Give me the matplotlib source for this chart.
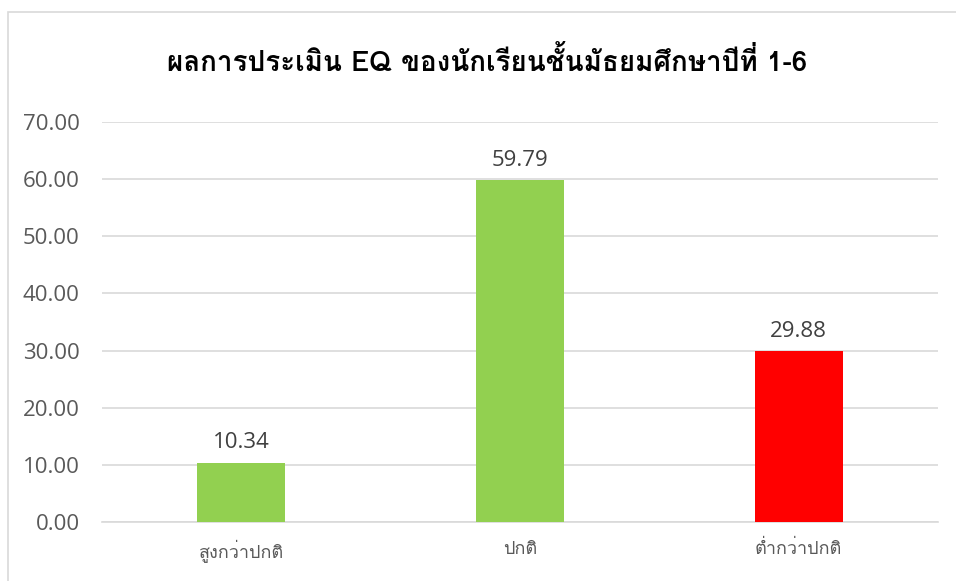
import matplotlib
matplotlib.use("Agg")
import matplotlib.pyplot as plt
from matplotlib import font_manager
from matplotlib.ft2font import FT2Font
from matplotlib.patches import Rectangle

categories = ["สูงกว่าปกติ", "ปกติ", "ต่ำกว่าปกติ"]
values = [10.34, 59.79, 29.88]
colors = ["#92D050", "#92D050", "#FF0000"]
title = "ผลการประเมิน EQ ของนักเรียนชั้นมัธยมศึกษาปีที่ 1-6"
yticks = [0, 10, 20, 30, 40, 50, 60, 70]

# find a font that covers Thai
thai_family = None
for f in font_manager.fontManager.ttflist:
    try:
        cm = FT2Font(f.fname).get_charmap()
        if ord("ก") in cm and ord("A") in cm:
            thai_family = f.name
            break
    except Exception:
        continue
families = ([thai_family] if thai_family else []) + ["DejaVu Sans"]
num_family = ["Open Sans", "DejaVu Sans"]

fig = plt.figure(figsize=(9.56, 5.81), dpi=100)
fig.patches.append(Rectangle((8 / 956, -0.01), 1.0, 1.01 - 12 / 581, transform=fig.transFigure,
                             fill=False, edgecolor="#D9D9D9", linewidth=1.2))
ax = fig.add_axes([102 / 956, 1 - 522 / 581, 836 / 956, 400 / 581])

x = list(range(len(categories)))
bars = ax.bar(x, values, width=0.316, color=colors, zorder=3)
ax.set_xlim(-0.5, 2.5)
ax.set_ylim(0, 70)
ax.set_yticks(yticks)
ax.set_yticklabels([f"{v:.2f}" for v in yticks], fontsize=16, color="#595959", family=num_family)
ax.set_xticks(x)
ax.set_xticklabels(categories, fontsize=13, color="#595959", family=families)
ax.tick_params(axis="both", length=0)
ax.tick_params(axis="x", pad=13)
ax.tick_params(axis="y", pad=16)
ax.grid(axis="y", color="#D9D9D9", linewidth=1.2, zorder=0)
for s in ["top", "right", "left"]:
    ax.spines[s].set_visible(False)
ax.spines["bottom"].set_color("#D9D9D9")
ax.spines["bottom"].set_linewidth(1.2)

for b, v in zip(bars, values):
    ax.annotate(f"{v:.2f}", (b.get_x() + b.get_width() / 2, v), xytext=(0, 7),
                textcoords="offset points", ha="center", va="bottom",
                fontsize=16, color="#404040", family=num_family)

fig.text(487 / 956, 1 - 61 / 581, title, ha="center", va="center", fontsize=20,
         fontweight="bold", color="#000000", family=families)

fig.savefig("out.png", dpi=100)
